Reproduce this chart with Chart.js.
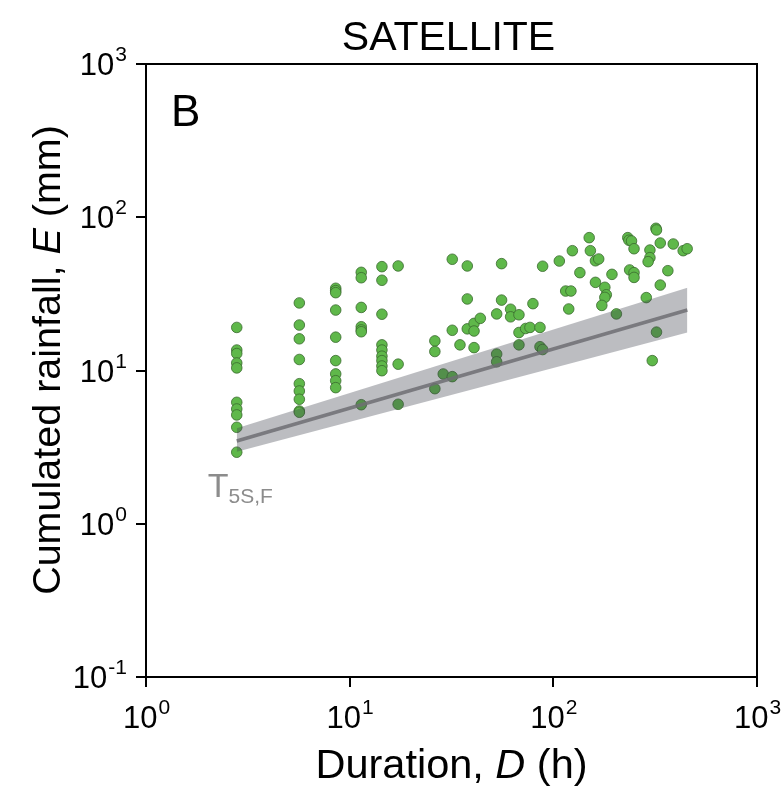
<!DOCTYPE html>
<html>
<head>
<meta charset="utf-8">
<script src="https://cdn.jsdelivr.net/npm/chart.js@4.4.1/dist/chart.umd.min.js"></script>
<style>
  html, body { margin: 0; padding: 0; background: #fff; }
  #c { display: block; }
</style>
</head>
<body>
<canvas id="c" width="784" height="793"></canvas>
<script>
// rainfall events: duration D (h) and cumulated rainfall E (mm)
const eventD = [
  2.79, 2.79, 2.79, 2.79, 2.79, 2.79, 2.79, 2.79, 2.79, 2.79,
  5.66, 5.66, 5.66, 5.66, 5.66, 5.66, 5.66, 5.66, 5.66,
  8.54, 8.54, 8.54, 8.54, 8.54, 8.54, 8.54, 8.54, 8.54,
  11.4, 11.4, 11.4, 11.4, 11.4, 11.4, 11.4,
  14.4, 14.4, 14.4, 14.4, 14.4, 14.4, 14.4, 14.4, 14.4,
  17.3, 17.3, 17.3,
  31.9, 37.8, 37.8, 31.9, 26.2, 26.2, 34.8, 40.8, 37.8, 40.8, 40.8, 43.8, 28.8, 31.9, 26.2,
  55.7, 55.7, 52.7, 52.7, 52.7, 61.7, 61.7, 67.8, 79.4, 67.8, 73.1, 76.8, 86.0, 67.8, 86.0, 88.6, 88.6,
  107, 124, 135, 115, 122, 119,
  150, 152, 161, 167, 194, 161, 179, 182, 179, 173, 204,
  232, 235, 242, 249, 237, 249, 249, 286, 298, 298, 292, 319, 321, 335, 388, 434, 454, 365, 335, 321, 306
];
const eventE = [
  19.1, 13.6, 12.9, 11.2, 10.4, 6.2, 5.61, 5.13, 4.26, 2.93,
  27.6, 19.8, 16.1, 11.8, 8.2, 7.35, 6.49, 5.44, 5.34,
  34.4, 33.2, 32.2, 24.8, 16.5, 11.6, 9.5, 8.58, 7.73,
  43.7, 40.3, 25.8, 19.3, 18.4, 17.9, 5.98,
  47.6, 38.8, 23.3, 14.7, 13.6, 12.4, 11.6, 10.7, 9.97,
  48.1, 11.0, 6.02,
  53.2, 48.1, 29.3, 18.3, 15.6, 13.3, 14.7, 14.1, 18.7, 20.3, 18.1, 21.9, 9.49, 9.12, 7.61,
  49.8, 28.8, 23.4, 12.8, 11.4, 25.1, 22.4, 23.1, 27.3, 17.7, 18.8, 19.1, 19.1, 14.7, 14.3, 13.7, 47.9,
  51.8, 60.5, 43.5, 33.0, 33.0, 25.2,
  73.6, 60.5, 52.0, 53.4, 42.4, 37.6, 34.9, 31.2, 30.0, 26.6, 23.4,
  73.6, 70.8, 70.0, 62.3, 45.3, 43.5, 40.5, 29.9, 61.1, 54.5, 51.3, 84.7, 82.6, 67.9, 66.9, 60.5, 62.3, 44.8, 36.1, 17.8, 11.6
];

// threshold T5S,F and its uncertainty band
const thrD = [2.79, 455];
const thrE = [3.47, 24.8];
const thrUpper = [4.2, 34.7];
const thrLower = [2.95, 17.7];

const xTickVals = [1, 10, 100, 1000];
const yTickVals = [0.1, 1, 10, 100, 1000];

const FONT = "'Liberation Sans', Arial, sans-serif";

const toPts = (xs, ys) => xs.map((x, i) => ({ x: x, y: ys[i] }));

function powTicks(vals) {
  return function (scale) {
    scale.ticks = vals.map(v => ({ value: v }));
  };
}

const decorPlugin = {
  id: 'decor',
  afterDraw(chart) {
    const ctx = chart.ctx;
    const a = chart.chartArea;
    const xs = chart.scales.x, ys = chart.scales.y;
    ctx.save();

    // frame
    ctx.strokeStyle = '#000';
    ctx.lineWidth = 2;
    ctx.strokeRect(a.left, a.top, a.right - a.left, a.bottom - a.top);

    // tick labels 10^n
    ctx.fillStyle = '#000';
    ctx.textBaseline = 'alphabetic';
    ctx.textAlign = 'left';
    xTickVals.forEach(v => {
      const px = xs.getPixelForValue(v);
      const ex = String(Math.round(Math.log10(v)));
      ctx.font = '31px ' + FONT;
      const wb = ctx.measureText('10').width;
      ctx.font = '21px ' + FONT;
      const we = ctx.measureText(ex).width;
      const x0 = px - (wb + we) / 2;
      ctx.font = '31px ' + FONT;
      ctx.fillText('10', x0, a.bottom + 51);
      ctx.font = '21px ' + FONT;
      ctx.fillText(ex, x0 + wb + 1, a.bottom + 37);
    });
    yTickVals.forEach(v => {
      const py = ys.getPixelForValue(v);
      const ex = String(Math.round(Math.log10(v)));
      ctx.font = '21px ' + FONT;
      const we = ctx.measureText(ex).width;
      ctx.font = '31px ' + FONT;
      const wb = ctx.measureText('10').width;
      const x1 = a.left - 19;
      ctx.fillText('10', x1 - we - 1 - wb, py + 11);
      ctx.font = '21px ' + FONT;
      ctx.fillText(ex, x1 - we, py - 3);
    });

    // title
    ctx.textAlign = 'center';
    ctx.font = '41px ' + FONT;
    ctx.fillText('SATELLITE', (a.left + a.right) / 2 - 3, 50);

    // panel letter
    ctx.textAlign = 'left';
    ctx.font = '44px ' + FONT;
    ctx.fillText('B', a.left + 25, a.top + 62);

    // x axis title with italic D
    const xParts = [['Duration, ', ''], ['D', 'italic '], [' (h)', '']];
    drawParts(ctx, xParts, (a.left + a.right) / 2, 778, 41.5);

    // y axis title with italic E
    ctx.save();
    ctx.translate(60, 360);
    ctx.rotate(-Math.PI / 2);
    const yParts = [['Cumulated rainfall, ', ''], ['E', 'italic '], [' (mm)', '']];
    drawParts(ctx, yParts, 0, 0, 39.5);
    ctx.restore();

    // threshold label
    ctx.fillStyle = '#8c8c8c';
    ctx.font = '34px ' + FONT;
    ctx.textAlign = 'left';
    const tx = xs.getPixelForValue(thrD[0]) - 29;
    const ty = ys.getPixelForValue(thrE[0]) + 56;
    ctx.fillText('T', tx, ty);
    const tw = ctx.measureText('T').width;
    ctx.font = '21px ' + FONT;
    ctx.fillText('5S,F', tx + tw, ty + 6);

    ctx.restore();
  }
};

function drawParts(ctx, parts, cx, baseline, size) {
  let total = 0;
  parts.forEach(p => {
    ctx.font = p[1] + size + 'px ' + FONT;
    total += ctx.measureText(p[0]).width;
  });
  let x = cx - total / 2;
  ctx.textAlign = 'left';
  parts.forEach(p => {
    ctx.font = p[1] + size + 'px ' + FONT;
    ctx.fillText(p[0], x, baseline);
    x += ctx.measureText(p[0]).width;
  });
}

new Chart(document.getElementById('c'), {
  type: 'scatter',
  data: {
    datasets: [
      {
        label: 'events',
        data: toPts(eventD, eventE),
        backgroundColor: '#5fb84a',
        borderColor: '#3a6a2e',
        borderWidth: 0.8,
        pointRadius: 5.3,
        order: 4
      },
      {
        label: 'lower',
        type: 'line',
        data: toPts(thrD, thrLower),
        borderWidth: 0,
        borderColor: 'rgba(0,0,0,0)',
        pointRadius: 0,
        fill: false,
        order: 3
      },
      {
        label: 'upper',
        type: 'line',
        data: toPts(thrD, thrUpper),
        borderWidth: 0,
        borderColor: 'rgba(0,0,0,0)',
        backgroundColor: 'rgba(62,66,78,0.35)',
        pointRadius: 0,
        fill: '-1',
        order: 2
      },
      {
        label: 'T5S,F',
        type: 'line',
        data: toPts(thrD, thrE),
        borderColor: 'rgba(110,110,115,0.85)',
        borderWidth: 3.5,
        pointRadius: 0,
        fill: false,
        order: 1
      }
    ]
  },
  options: {
    responsive: false,
    animation: false,
    events: [],
    layout: { padding: { top: 64, right: 27, left: 0, bottom: 0 } },
    plugins: {
      legend: { display: false },
      title: { display: false },
      tooltip: { enabled: false }
    },
    scales: {
      x: {
        type: 'logarithmic',
        min: 1,
        max: 1000,
        afterBuildTicks: powTicks(xTickVals),
        afterFit: s => { s.height = 116; },
        ticks: { display: false },
        grid: { drawOnChartArea: false, drawTicks: true, tickLength: 10, color: '#000', lineWidth: 2 },
        border: { display: true, color: '#000', width: 2 }
      },
      y: {
        type: 'logarithmic',
        min: 0.1,
        max: 1000,
        afterBuildTicks: powTicks(yTickVals),
        afterFit: s => { s.width = 146; },
        ticks: { display: false },
        grid: { drawOnChartArea: false, drawTicks: true, tickLength: 10, color: '#000', lineWidth: 2 },
        border: { display: true, color: '#000', width: 2 }
      }
    }
  },
  plugins: [decorPlugin]
});
</script>
</body>
</html>
